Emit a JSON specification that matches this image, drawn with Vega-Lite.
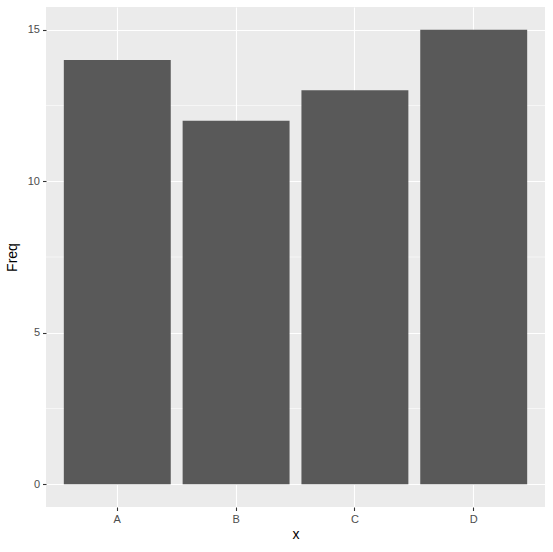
{
  "$schema": "https://vega.github.io/schema/vega-lite/v6.json",
  "width": 499,
  "height": 500,
  "autosize": {"type": "none"},
  "padding": {"left": 46, "top": 7, "right": 8, "bottom": 45},
  "background": "white",
  "config": {
    "view": {"fill": "#EBEBEB", "stroke": null},
    "font": "Liberation Sans"
  },
  "layer": [
    {
      "data": {"values": [{"g": 2.5}, {"g": 7.5}, {"g": 12.5}]},
      "mark": {"type": "rule", "color": "white", "strokeWidth": 0.55},
      "encoding": {
        "y": {
          "field": "g", "type": "quantitative",
          "scale": {"domain": [-0.75, 15.75], "nice": false, "zero": false},
          "axis": {
            "title": "Freq",
            "values": [0, 5, 10, 15],
            "grid": true, "gridColor": "white", "gridWidth": 1.1,
            "domain": false, "tickColor": "#333333", "tickSize": 3.5, "tickWidth": 1.1,
            "labelColor": "#4D4D4D", "labelFontSize": 11, "labelPadding": 3,
            "titleFontSize": 14, "titleFontWeight": "normal", "titleColor": "black", "titlePadding": 8
          }
        }
      }
    },
    {
      "data": {"values": [
        {"x": "A", "Freq": 14},
        {"x": "B", "Freq": 12},
        {"x": "C", "Freq": 13},
        {"x": "D", "Freq": 15}
      ]},
      "mark": {"type": "bar", "color": "#595959"},
      "encoding": {
        "x": {
          "field": "x", "type": "nominal",
          "scale": {"paddingInner": 0.1, "paddingOuter": 0.15},
          "axis": {
            "labelAngle": 0, "bandPosition": 0.5,
            "grid": true, "gridColor": "white", "gridWidth": 1.1,
            "domain": false, "tickColor": "#333333", "tickSize": 3.5, "tickWidth": 1.1,
            "labelColor": "#4D4D4D", "labelFontSize": 11, "labelPadding": 3,
            "titleFontSize": 14, "titleFontWeight": "normal", "titleColor": "black", "titlePadding": 3
          }
        },
        "y": {
          "field": "Freq", "type": "quantitative",
          "title": "Freq"
        },
        "y2": {"datum": 0}
      }
    }
  ]
}
